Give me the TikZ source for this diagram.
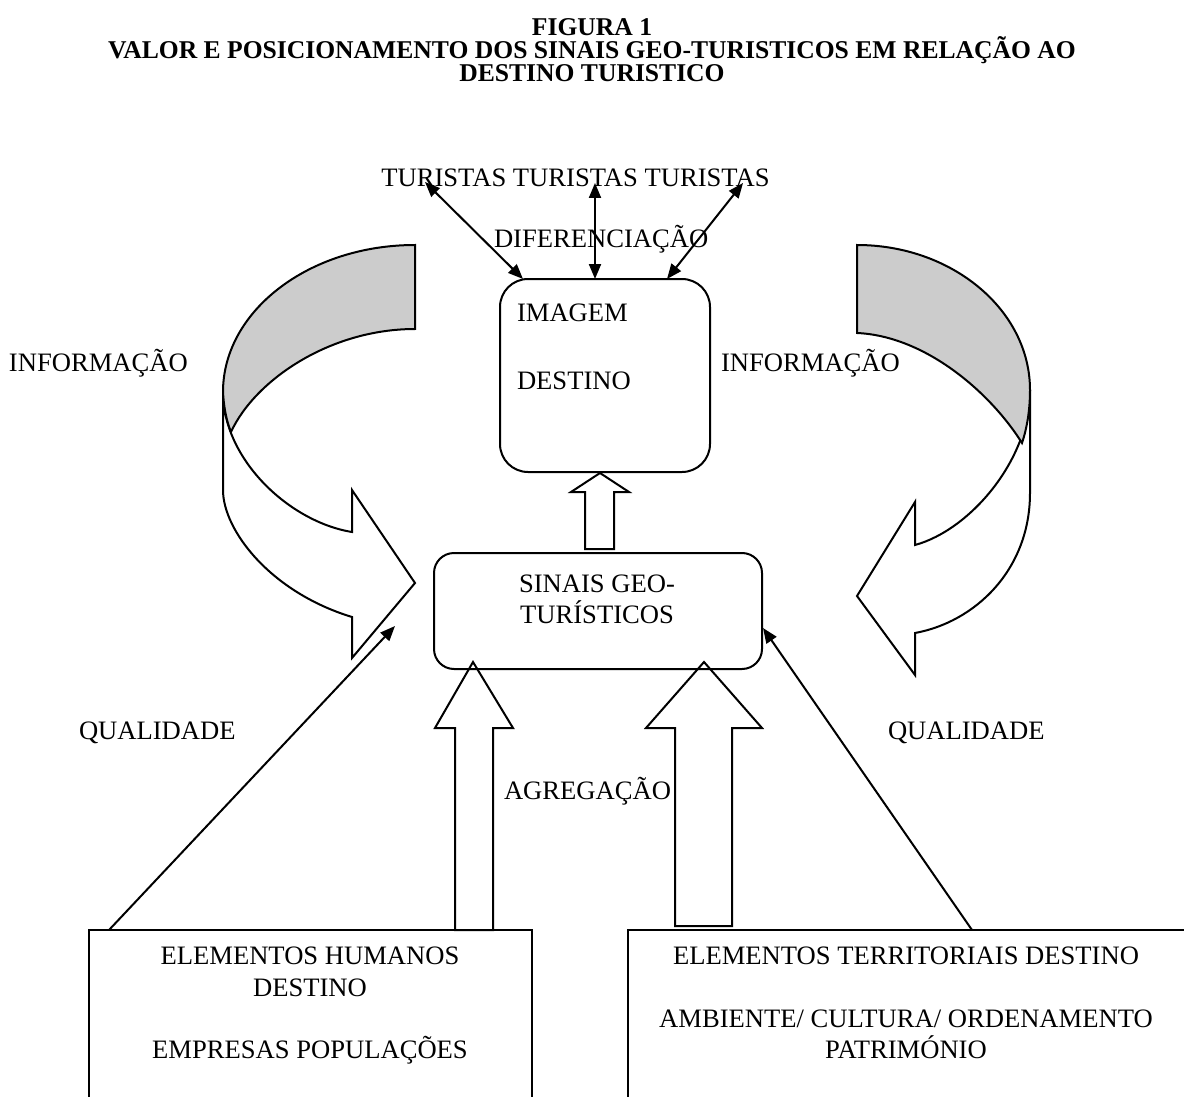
\documentclass[tikz,border=0pt]{standalone}
\usepackage{fontspec}
\setmainfont{Liberation Serif}
\usetikzlibrary{arrows.meta}
\begin{document}
\begin{tikzpicture}[x=0.5pt,y=-0.5pt, line width=1pt,
  txt/.style={font=\fontsize{13.3}{15}\selectfont, inner sep=0pt},
  ttl/.style={font=\fontsize{12.8}{15}\selectfont\bfseries, inner sep=0pt},
  tipend/.style={-{Triangle[length=7.5pt,width=6pt]}},
  dtip/.style={{Triangle[length=7.5pt,width=6pt]}-{Triangle[length=7.5pt,width=6pt]}},
  hollow/.style={draw, fill=white, line width=1pt, line join=miter},
  bandw/.style={draw, fill=white, line width=1pt, line join=miter},
  bandg/.style={draw, fill=black!20, line width=1pt, line join=miter},
  sqbox/.style={draw, line width=1pt}]
\useasboundingbox (0,0) rectangle (1184,1097);
\clip (0,0) rectangle (1184,1097);

% title
\node[ttl, anchor=base] (t1) at (592,36) {FIGURA 1};
\node[ttl, anchor=base] (t2) at (592,59) {VALOR E POSICIONAMENTO DOS SINAIS GEO-TURISTICOS EM RELAÇÃO AO};
\node[ttl, anchor=base] (t3) at (592,82) {DESTINO TURISTICO};

% curved arrow left
\path[bandw] (223,392) -- (223,490) .. controls (223,530) and (270,592) .. (352,617)
  -- (352,658) -- (415,583) -- (352,490) -- (352,532)
  .. controls (290,522) and (223,460) .. (223,392) -- cycle;
\path[bandg] (415,245) .. controls (309,245) and (223,311) .. (223,392)
  .. controls (224,410) and (227,422) .. (231,432)
  .. controls (255,380) and (330,329) .. (415,329) -- cycle;

% curved arrow right
\path[bandw] (1030,390) -- (1030,493) .. controls (1030,570) and (975,622) .. (915,633)
  -- (915,675) -- (857,596) -- (915,502) -- (915,545)
  .. controls (970,530) and (1030,460) .. (1030,390) -- cycle;
\path[bandg] (857,245) .. controls (952,245) and (1030,310) .. (1030,390)
  .. controls (1030,410) and (1027,428) .. (1022,443)
  .. controls (990,392) and (925,336) .. (857,333) -- cycle;

% hollow block arrows
\path[hollow] (585,549) -- (585,492) -- (571,492) -- (600,473) -- (629,492) -- (614,492) -- (614,549) -- cycle;
\path[hollow] (455,930) -- (455,728) -- (435,728) -- (473,662) -- (513,728) -- (493,728) -- (493,930) -- cycle;
\path[hollow] (675,926) -- (675,728) -- (646,728) -- (704,662) -- (762,728) -- (732,728) -- (732,926) -- cycle;

% boxes
\node[draw, rounded corners=14pt, minimum width=105pt, minimum height=96.5pt, inner sep=0pt] (img) at (605,375.5) {};
\node[draw, rounded corners=10pt, minimum width=164pt, minimum height=58pt, inner sep=0pt] (sin) at (598,611) {};
\node[sqbox, minimum width=221.5pt, minimum height=110pt, inner sep=0pt] (hum) at (310.5,1040) {};
\node[sqbox, minimum width=290pt, minimum height=110pt, inner sep=0pt] (ter) at (918,1040) {};

% texts
\node[txt, anchor=base] (tur) at (575.5,186) {TURISTAS TURISTAS TURISTAS};
\node[txt, anchor=base west] (dif) at (493,248) {DIFERENCIAÇÃO};
\node[txt, anchor=base west] (im1) at (516,321) {IMAGEM};
\node[txt, anchor=base west] (im2) at (516,389) {DESTINO};
\node[txt, anchor=base west] (infl) at (8,371) {INFORMAÇÃO};
\node[txt, anchor=base west] (infr) at (720,371) {INFORMAÇÃO};
\node[txt, anchor=base] (s1) at (597,592) {SINAIS GEO-};
\node[txt, anchor=base] (s2) at (597,623) {TURÍSTICOS};
\node[txt, anchor=base west] (ql) at (78,739) {QUALIDADE};
\node[txt, anchor=base west] (qr) at (887,739) {QUALIDADE};
\node[txt, anchor=base west] (agr) at (503,799) {AGREGAÇÃO};
\node[txt, anchor=base] (h1) at (310,964) {ELEMENTOS HUMANOS};
\node[txt, anchor=base] (h2) at (310,996) {DESTINO};
\node[txt, anchor=base] (h3) at (310,1058) {EMPRESAS POPULAÇÕES};
\node[txt, anchor=base] (r1) at (906,964) {ELEMENTOS TERRITORIAIS DESTINO};
\node[txt, anchor=base] (r2) at (906,1027) {AMBIENTE/ CULTURA/ ORDENAMENTO};
\node[txt, anchor=base] (r3) at (906,1058) {PATRIMÓNIO};

% connector end points
\coordinate (ta) at (425,182);
\coordinate (tb) at (595,183);
\coordinate (tc) at (743,183);
\coordinate (ia) at (523,279);
\coordinate (ib) at (595,279);
\coordinate (ic) at (667,279);
\coordinate (hl) at (109,930);
\coordinate (sl) at (395,626);
\coordinate (tr) at (972,930);
\coordinate (sr) at (763,628);

\draw[dtip] (ta) -- (ia);
\draw[dtip] (tb) -- (ib);
\draw[dtip] (tc) -- (ic);
\draw[tipend] (hl) -- (sl);
\draw[tipend] (tr) -- (sr);
\end{tikzpicture}
\end{document}
